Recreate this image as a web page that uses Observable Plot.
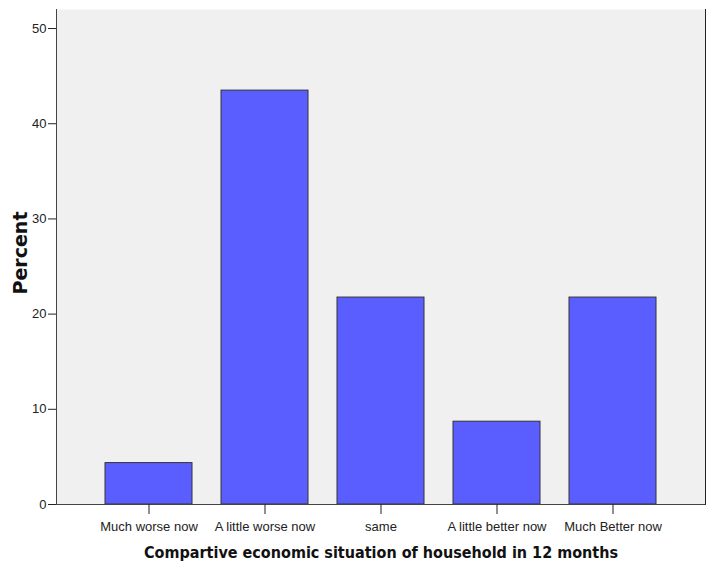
<!DOCTYPE html>
<html><head><meta charset="utf-8">
<script src="https://cdn.jsdelivr.net/npm/d3@7"></script>
<script src="https://cdn.jsdelivr.net/npm/@observablehq/plot@0.6"></script>
<style>body{margin:0;background:#fff}</style>
</head><body><div id="chart"></div>
<script>
const categories = ["Much worse now", "A little worse now", "same", "A little better now", "Much Better now"];
const percents = [4.35, 43.48, 21.74, 8.70, 21.74];
const yTicks = [0, 10, 20, 30, 40, 50];
const xTitle = "Compartive economic situation of household in 12 months";
const yTitle = "Percent";

const data = categories.map((c, i) => ({category: c, percent: percents[i]}));

const chart = Plot.plot({
  width: 708, height: 562,
  marginLeft: 56, marginRight: 3, marginTop: 9, marginBottom: 58,
  style: {fontFamily: "'Liberation Sans', Arial, sans-serif", fontSize: "13px", color: "#222", background: "#fff"},
  x: {domain: categories, paddingInner: 0.25, paddingOuter: 0.4, axis: null},
  y: {domain: [0, 52], axis: null},
  marks: [
    Plot.frame({fill: "#f0f0f0"}),
    Plot.barY(data, {x: "category", y: "percent", fill: "#5b5eff", stroke: "#333", strokeWidth: 1}),
    Plot.frame({anchor: "left", stroke: "#444"}),
    Plot.frame({anchor: "right", stroke: "#222"}),
    Plot.ruleY([0], {stroke: "#444"}),
    Plot.axisY({ticks: yTicks, tickSize: 8, tickPadding: 2, label: null, fontSize: 13}),
    Plot.axisX({tickSize: 10, tickPadding: 7, label: null, fontSize: 13}),
    Plot.text([yTitle], {frameAnchor: "left", textAnchor: "middle", lineAnchor: "middle", rotate: -90, dx: -36, dy: -4,
      fontFamily: "DejaVu Sans", fontWeight: "bold", fontSize: 19, fill: "#111"}),
    Plot.text([xTitle], {frameAnchor: "bottom", textAnchor: "middle", lineAnchor: "middle", dy: 48,
      fontFamily: "'DejaVu Sans Condensed', 'DejaVu Sans'", fontWeight: "bold", fontSize: 16, fill: "#111"})
  ]
});
document.getElementById("chart").appendChild(chart);
</script>
</body></html>
